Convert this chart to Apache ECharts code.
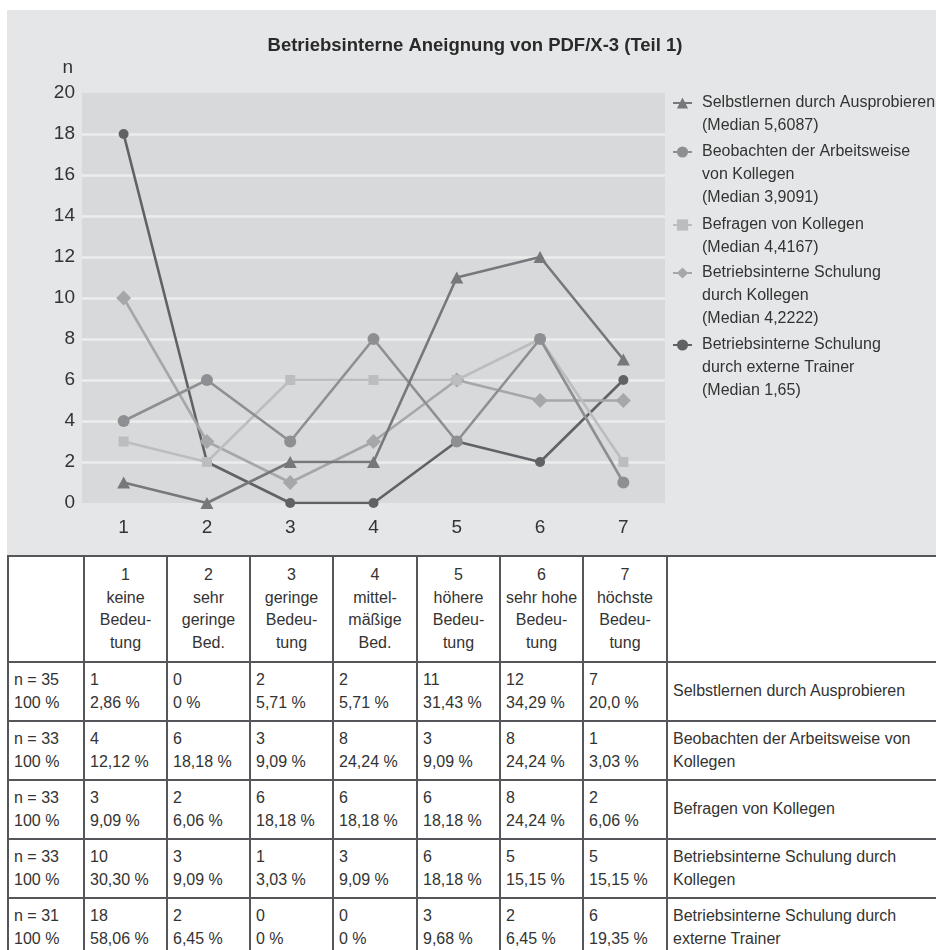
<!DOCTYPE html>
<html>
<head>
<meta charset="utf-8">
<script src="https://cdn.jsdelivr.net/npm/echarts@6/dist/echarts.min.js"></script>
<style>
  html, body { margin: 0; padding: 0; background: #ffffff; width: 936px; height: 950px; overflow: hidden; }
  #panel { position: absolute; left: 7px; top: 10px; width: 929px; height: 545px; background: #e5e6e7; }
  #chart { position: absolute; left: 0; top: 0; width: 936px; height: 555px; }
  #tbl {
    position: absolute; left: 7px; top: 555px; width: 929px;
    border-collapse: collapse; table-layout: fixed;
    font-family: 'Liberation Sans', Arial, sans-serif;
    font-size: 16px; line-height: 22.5px; color: #333333;
  }
  #tbl td { border: 2px solid #55565a; padding: 0 3px 0 5px; vertical-align: middle; white-space: pre; overflow: hidden; }
  #tbl td.label { white-space: pre-line; }
  #tbl tr.head td { text-align: center; height: 104px; padding: 0; }
  #tbl tr.row td { height: 57px; }
</style>
</head>
<body>
<div id="panel"></div>
<div id="chart"></div>
<table id="tbl"></table>
<script>
// ---- data ----
const categories = ['1', '2', '3', '4', '5', '6', '7'];
const categoryDescriptions = [
  'keine\nBedeu-\ntung',
  'sehr\ngeringe\nBed.',
  'geringe\nBedeu-\ntung',
  'mittel-\nmäßige\nBed.',
  'höhere\nBedeu-\ntung',
  'sehr hohe\nBedeu-\ntung',
  'höchste\nBedeu-\ntung'
];
const seriesNames = [
  'Selbstlernen durch Ausprobieren',
  'Beobachten der Arbeitsweise von Kollegen',
  'Befragen von Kollegen',
  'Betriebsinterne Schulung durch Kollegen',
  'Betriebsinterne Schulung durch externe Trainer'
];
const legendLines = [
  ['Selbstlernen durch Ausprobieren', '(Median 5,6087)'],
  ['Beobachten der Arbeitsweise', 'von Kollegen', '(Median 3,9091)'],
  ['Befragen von Kollegen', '(Median 4,4167)'],
  ['Betriebsinterne Schulung', 'durch Kollegen', '(Median 4,2222)'],
  ['Betriebsinterne Schulung', 'durch externe Trainer', '(Median 1,65)']
];
const selbstlernen     = [1, 0, 2, 2, 11, 12, 7];
const beobachten       = [4, 6, 3, 8, 3, 8, 1];
const befragen         = [3, 2, 6, 6, 6, 8, 2];
const schulungKollegen = [10, 3, 1, 3, 6, 5, 5];
const schulungExtern   = [18, 2, 0, 0, 3, 2, 6];
const seriesValues = [selbstlernen, beobachten, befragen, schulungKollegen, schulungExtern];
const respondents = [35, 33, 33, 33, 31];
const pctSelbstlernen     = ['2,86 %', '0 %', '5,71 %', '5,71 %', '31,43 %', '34,29 %', '20,0 %'];
const pctBeobachten       = ['12,12 %', '18,18 %', '9,09 %', '24,24 %', '9,09 %', '24,24 %', '3,03 %'];
const pctBefragen         = ['9,09 %', '6,06 %', '18,18 %', '18,18 %', '18,18 %', '24,24 %', '6,06 %'];
const pctSchulungKollegen = ['30,30 %', '9,09 %', '3,03 %', '9,09 %', '18,18 %', '15,15 %', '15,15 %'];
const pctSchulungExtern   = ['58,06 %', '6,45 %', '0 %', '0 %', '9,68 %', '6,45 %', '19,35 %'];
const seriesPercents = [pctSelbstlernen, pctBeobachten, pctBefragen, pctSchulungKollegen, pctSchulungExtern];
const tableRowLabels = [
  'Selbstlernen durch Ausprobieren',
  'Beobachten der Arbeitsweise von Kollegen',
  'Befragen von Kollegen',
  'Betriebsinterne Schulung durch Kollegen',
  'Betriebsinterne Schulung durch externe Trainer'
];
const yTicks = { min: 0, max: 20, interval: 2 };

// ---- styles ----
const FONT = "'Liberation Sans', Arial, sans-serif";
const TEXT = '#333333';
const seriesColors  = ['#77787b', '#8e8f92', '#bcbdbf', '#a6a7a9', '#616265'];
const seriesSymbols = ['triangle', 'circle', 'rect', 'diamond', 'circle'];
const symbolSizes   = [[13, 12], 12, 10, 15, 10];
const seriesZ       = [7, 6, 5, 4, 3];
const legendFirstLineY = [103, 152, 225, 273, 345];
const LH = 23;

// ---- chart ----
const chart = echarts.init(document.getElementById('chart'), null, { renderer: 'canvas' });

// Each legend entry is its own component; the text block is balanced with
// empty lines above so the icon sits beside the first line.
const legends = seriesNames.map((name, i) => {
  const n = legendLines[i].length;
  const spacer = new Array(n - 1).fill(' ');
  return {
    data: [name],
    orient: 'vertical',
    left: 672,
    top: legendFirstLineY[i] - LH * (2 * n - 1) / 2,
    padding: 0,
    itemWidth: 19,
    itemHeight: 14,
    selectedMode: false,
    formatter: () => spacer.concat(legendLines[i]).join('\n'),
    textStyle: { fontFamily: FONT, fontSize: 16, color: TEXT, lineHeight: LH, padding: [0, 0, 0, 5] }
  };
});

chart.setOption({
  animation: false,
  backgroundColor: 'transparent',
  title: {
    text: 'Betriebsinterne Aneignung von PDF/X-3 (Teil 1)',
    left: 475,
    textAlign: 'center',
    top: 36,
    padding: 0,
    textStyle: { fontFamily: FONT, fontSize: 18.5, fontWeight: 'bold', color: '#2a2a2a' }
  },
  legend: legends,
  grid: {
    left: 82, top: 93, width: 583, height: 410,
    show: true, backgroundColor: '#d8d9db', borderWidth: 0,
    containLabel: false
  },
  xAxis: {
    type: 'category',
    data: categories,
    boundaryGap: true,
    axisLine: { show: false },
    axisTick: { show: false },
    axisLabel: { fontFamily: FONT, fontSize: 19, color: TEXT, margin: 15 },
    splitLine: { show: false }
  },
  yAxis: {
    type: 'value',
    min: yTicks.min, max: yTicks.max, interval: yTicks.interval,
    name: 'n',
    nameLocation: 'end',
    nameGap: 25,
    nameTextStyle: { fontFamily: FONT, fontSize: 19, color: TEXT, align: 'right', verticalAlign: 'middle', padding: [0, 9, 0, 0] },
    axisLine: { show: false },
    axisTick: { show: false },
    axisLabel: { fontFamily: FONT, fontSize: 19, color: TEXT, margin: 7 },
    splitLine: { show: true, showMinLine: false, showMaxLine: false, lineStyle: { color: '#ececed', width: 2.5 } }
  },
  series: seriesNames.map((name, i) => ({
    name: name,
    type: 'line',
    data: seriesValues[i],
    z: seriesZ[i],
    symbol: seriesSymbols[i],
    symbolSize: symbolSizes[i],
    showAllSymbol: true,
    itemStyle: { color: seriesColors[i] },
    lineStyle: { color: seriesColors[i], width: 2.6 },
    emphasis: { disabled: true }
  }))
});

// ---- table ----
const tbl = document.getElementById('tbl');
const colWidths = [76, 83, 83, 83, 84, 83, 83, 84, 270];
const colgroup = document.createElement('colgroup');
colWidths.forEach(w => { const c = document.createElement('col'); c.style.width = w + 'px'; colgroup.appendChild(c); });
tbl.appendChild(colgroup);

const head = document.createElement('tr');
head.className = 'head';
head.appendChild(document.createElement('td'));
categories.forEach((c, k) => {
  const td = document.createElement('td');
  td.textContent = c + '\n' + categoryDescriptions[k];
  head.appendChild(td);
});
head.appendChild(document.createElement('td'));
tbl.appendChild(head);

seriesNames.forEach((name, i) => {
  const tr = document.createElement('tr');
  tr.className = 'row';
  const first = document.createElement('td');
  first.textContent = 'n = ' + respondents[i] + '\n100 %';
  tr.appendChild(first);
  seriesValues[i].forEach((v, k) => {
    const td = document.createElement('td');
    td.textContent = v + '\n' + seriesPercents[i][k];
    tr.appendChild(td);
  });
  const last = document.createElement('td');
  last.className = 'label';
  last.textContent = tableRowLabels[i];
  tr.appendChild(last);
  tbl.appendChild(tr);
});
</script>
</body>
</html>
